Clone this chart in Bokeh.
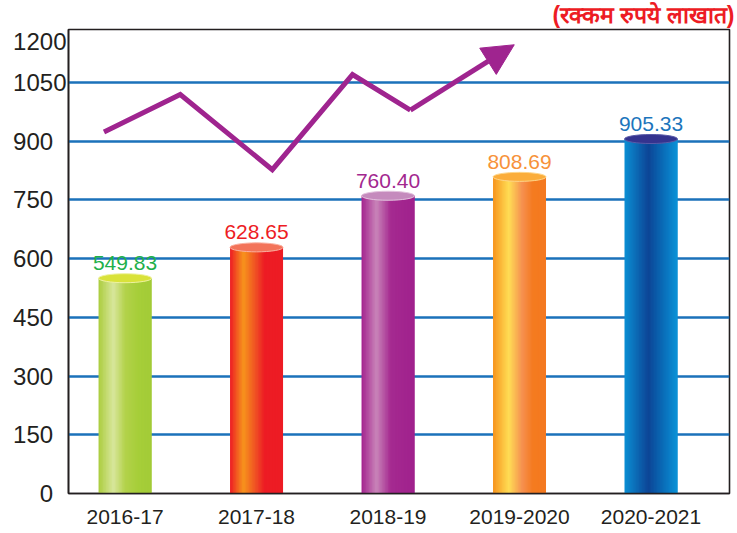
import numpy as np
from bokeh.plotting import figure
from bokeh.models import Range1d, FixedTicker, Arrow, NormalHead, ColumnDataSource
from bokeh.core.properties import value
from bokeh.embed import file_html
from bokeh.resources import INLINE

# ---------------- data ----------------
years = ["2016-17", "2017-18", "2018-19", "2019-2020", "2020-2021"]
amounts = [549.83, 628.65, 760.40, 808.69, 905.33]
amount_labels = ["549.83", "628.65", "760.40", "808.69", "905.33"]
y_ticks = [0, 150, 300, 450, 600, 750, 900, 1050, 1200]
trend_x = [-0.16, 0.42, 1.12, 1.73, 2.17]
trend_y = [923, 1019, 827, 1070, 979]
trend_tip = [2.96, 1146]
unit_note = "(रक्कम रुपये लाखात)"

# ---------------- styles ----------------
label_colors = ["#1fb04b", "#ed1c24", "#a3288f", "#f7923a", "#1c75bc"]
gradients = [
    [(0, "#abcd3e"), (0.28, "#d8e69c"), (0.5, "#b3d24b"), (0.75, "#a6ce39"), (1, "#a3cb37")],
    [(0, "#ed1c24"), (0.25, "#f7941d"), (0.5, "#ef4b24"), (0.65, "#ed1c24"), (1, "#ed1c24")],
    [(0, "#a3238e"), (0.28, "#c985b9"), (0.55, "#a52a90"), (1, "#a0218d")],
    [(0, "#f7941d"), (0.3, "#ffdd55"), (0.55, "#f69050"), (0.75, "#f47b20"), (1, "#f47920")],
    [(0, "#0b8fd4"), (0.45, "#0d4596"), (0.6, "#0a5aa8"), (1, "#0a93d8")],
]
cap_colors = ["#d9e23a", "#f3745a", "#c58bbd", "#fbad3b", "#34338f"]
cap_edges = ["#eef2a0", "#f9b0a0", "#e3c3de", "#fdd58a", "#5a5aa8"]
TEXT = "#231f20"
GRID = "#1b72ba"
PURPLE = "#9f248f"
BAR_W = 0.403
NSTRIP = 36


def hex2rgb(h):
    h = h.lstrip("#")
    return np.array([int(h[i:i + 2], 16) for i in (0, 2, 4)], dtype=float)


def interp(stops, t):
    for (p0, c0), (p1, c1) in zip(stops[:-1], stops[1:]):
        if p0 <= t <= p1:
            f = 0 if p1 == p0 else (t - p0) / (p1 - p0)
            c = hex2rgb(c0) * (1 - f) + hex2rgb(c1) * f
            return "#%02x%02x%02x" % tuple(int(round(v)) for v in c)
    return stops[-1][1]


p = figure(width=737, height=533, output_backend="svg", toolbar_location=None,
           x_range=Range1d(-0.43, 4.597), y_range=Range1d(0, 1185),
           min_border_left=68, min_border_right=8, min_border_top=29, min_border_bottom=40,
           background_fill_color="white", border_fill_color="white",
           title=unit_note)
p.title.align = "right"
p.title.vertical_align = "top"
p.title.text_font = "Liberation Sans"
p.title.text_font_size = "23px"
p.title.text_font_style = "bold"
p.title.text_color = "#ed1c24"
p.title.standoff = 0
p.title.offset = -5
p.outline_line_color = TEXT
p.outline_line_width = 1.6

# grid
p.xgrid.visible = False
p.ygrid.ticker = FixedTicker(ticks=y_ticks[1:-1])
p.ygrid.grid_line_color = GRID
p.ygrid.grid_line_width = 2.5

# y axis
top_label_at = 1155
axis_ticks = y_ticks[:-1] + [top_label_at]
p.yaxis.ticker = FixedTicker(ticks=axis_ticks)
overrides = {}
for t in y_ticks[:-1]:
    overrides[t] = str(t) if t >= 1000 else str(t) + "\u00a0\u00a0"
overrides[top_label_at] = str(y_ticks[-1])
p.yaxis.major_label_overrides = overrides
p.yaxis.major_label_text_font = "Liberation Sans"
p.yaxis.major_label_text_font_size = "24px"
p.yaxis.major_label_text_color = TEXT
p.yaxis.major_label_standoff = 2
p.yaxis.major_tick_line_color = None
p.yaxis.major_tick_out = 0
p.yaxis.major_tick_in = 0
p.yaxis.minor_tick_line_color = None
p.yaxis.axis_line_color = TEXT
p.yaxis.axis_line_width = 1.6

# x axis
idx = list(range(len(years)))
p.xaxis.ticker = FixedTicker(ticks=idx)
p.xaxis.major_label_overrides = {i: y for i, y in zip(idx, years)}
p.xaxis.major_label_text_font = "Liberation Sans"
p.xaxis.major_label_text_font_size = "21px"
p.xaxis.major_label_text_color = TEXT
p.xaxis.major_label_standoff = 16
p.xaxis.major_tick_line_color = None
p.xaxis.major_tick_out = 0
p.xaxis.major_tick_in = 0
p.xaxis.minor_tick_line_color = None
p.xaxis.axis_line_color = TEXT
p.xaxis.axis_line_width = 1.6

# cylinder bodies as thin overlapping gradient strips
dw = BAR_W / NSTRIP
ql, qr, qt, qc = [], [], [], []
for i, (amt, stops) in enumerate(zip(amounts, gradients)):
    right_edge = i + BAR_W / 2
    for k in range(NSTRIP):
        left = i - BAR_W / 2 + k * dw
        ql.append(left)
        qr.append(min(left + 2.2 * dw, right_edge))
        qt.append(amt)
        qc.append(interp(stops, (k + 0.5) / NSTRIP))
src = ColumnDataSource(dict(left=ql, right=qr, top=qt, color=qc))
p.quad(left="left", right="right", top="top", bottom=0, source=src,
       fill_color="color", line_color=None)

# caps
p.ellipse(x=idx, y=amounts, width=BAR_W, height=9, height_units="screen",
          fill_color=cap_colors, line_color=cap_edges, line_width=1)

# value labels
p.text(x=idx, y=amounts, text=amount_labels, text_color=label_colors,
       text_font=value("Liberation Sans"), text_font_size="21px",
       text_align="center", text_baseline="alphabetic", y_offset=-15)

# trend arrow
p.line(trend_x, trend_y, line_width=5, line_color=PURPLE, line_join="miter")
p.add_layout(Arrow(x_start=trend_x[-1], y_start=trend_y[-1], x_end=trend_tip[0], y_end=trend_tip[1],
                   line_width=5, line_color=PURPLE,
                   end=NormalHead(size=31, fill_color=PURPLE, line_color=PURPLE, line_width=1)))

open("out.html", "w").write(file_html(p, INLINE))
